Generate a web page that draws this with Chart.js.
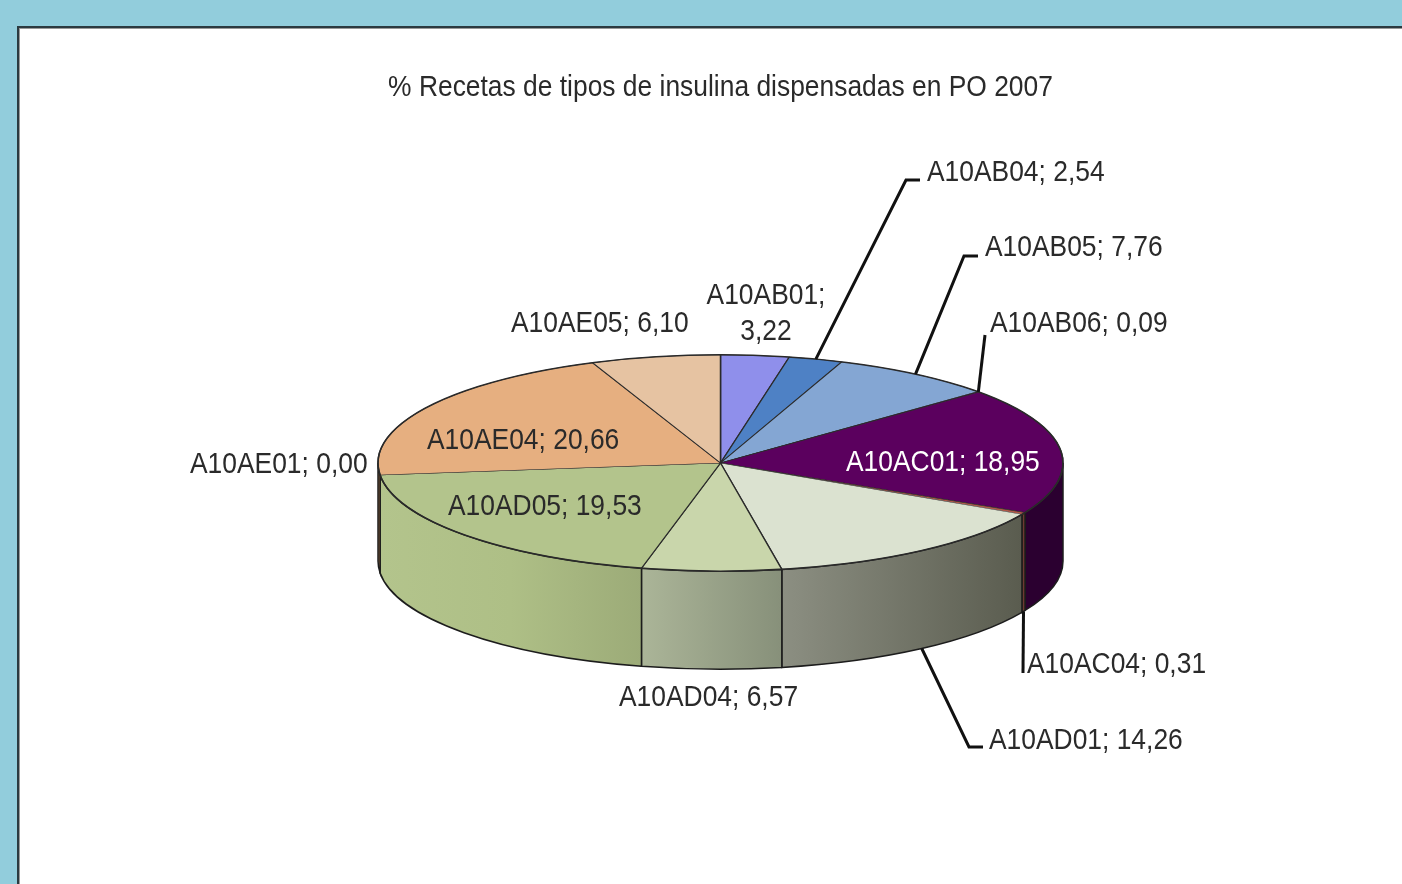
<!DOCTYPE html>
<html><head><meta charset="utf-8">
<style>
html,body{margin:0;padding:0;width:1402px;height:884px;overflow:hidden;background:#92CDDC}
#panel{position:absolute;left:17px;top:26px;right:-5px;bottom:-5px;background:#fff;border:2px solid #2b3a40;box-shadow:inset 1px 1px 0 #999}
canvas{position:absolute;left:0;top:0;filter:blur(0.5px)}
</style>
<script src="https://cdn.jsdelivr.net/npm/chart.js@4"></script>
</head><body><div id="panel"></div><canvas id="c" width="1402" height="884"></canvas>
<script>
const categories = ['A10AB01','A10AB04','A10AB05','A10AB06','A10AC01','A10AC04','A10AD01','A10AD04','A10AD05','A10AE01','A10AE04','A10AE05'];
const values = [3.22,2.54,7.76,0.09,18.95,0.31,14.26,6.57,19.53,0.00,20.66,6.10];
const titleText = '% Recetas de tipos de insulina dispensadas en PO 2007';
const topColors = ['#8F8FEB','#4E81C5','#84A6D3','#7A4A9A','#5B005E','#B05A4A','#DBE2D0','#C9D6AB','#B3C48C','#B3C48C','#E6AF80','#E6C3A2'];
const wallColors = [
  ['#666','#666'],['#666','#666'],['#666','#666'],['#666','#666'],
  ['#2B0030','#2B0030'],['#6E3A32','#6E3A32'],
  ['#8C8F82','#5A5C4F'],['#ABB598','#87907A'],
  ['#B3C48C','#AEBF86','#9CAB78'],['#B3C48C','#B3C48C'],['#96693F','#96693F'],['#666','#666']
];
const SQUASH = 108/342, DEPTH = 98, FONT = 'Liberation Sans, Arial, sans-serif', XS = 0.88;
const labelPlace = {
  A10AB01:{x:766,y:296,center:true,wrap:true},
  A10AB04:{x:927,y:173},
  A10AB05:{x:985,y:248},
  A10AB06:{x:990,y:324},
  A10AC01:{x:846,y:463,color:'#fff'},
  A10AC04:{x:1027,y:665},
  A10AD01:{x:989,y:741},
  A10AD04:{x:619,y:698},
  A10AD05:{x:448,y:507},
  A10AE01:{x:190,y:465},
  A10AE04:{x:427,y:441},
  A10AE05:{x:511,y:324}
};
const leaders = {
  A10AB04:{pts:[[906,180],[920,180]]},
  A10AB05:{pts:[[964,256],[978,256]]},
  A10AB06:{pts:[[985,335]]},
  A10AC04:{pts:[[1023,673]],bottom:true},
  A10AD01:{pts:[[969,747],[983,747]],bottom:true}
};
const fmt = v => v.toFixed(2).replace('.',',');
function text(ctx,s,x,y,center,color){
  ctx.save();
  ctx.translate(x,y);ctx.scale(XS,1);
  ctx.font='30px '+FONT;ctx.fillStyle=color||'#2a2a2a';
  ctx.textBaseline='middle';ctx.textAlign=center?'center':'left';
  ctx.fillText(s,0,0);ctx.restore();
}
const pie3d = {
  id:'pie3d',
  beforeDraw(chart){
    const ctx=chart.ctx,cx=chart.getDatasetMeta(0).data[0]?.x??720;
    ctx.save();ctx.translate(cx,0);ctx.scale(XS,1);ctx.translate(-cx,0);
  },
  beforeDatasetsDraw(chart){
    const ctx=chart.ctx;ctx.restore();
    const arcs=chart.getDatasetMeta(0).data;
    arcs.forEach((a,i)=>{
      const R=a.outerRadius,ry=R*SQUASH;
      const s=Math.max(a.startAngle,0),e=Math.min(a.endAngle,Math.PI);
      if(e<=s)return;
      const x0=a.x+R*Math.cos(e),x1=a.x+R*Math.cos(s);
      const g=ctx.createLinearGradient(x0,0,x1,0);
      const st=wallColors[i];
      st.forEach((c,k)=>g.addColorStop(k/(st.length-1),c));
      ctx.beginPath();
      ctx.ellipse(a.x,a.y,R,ry,0,s,e);
      ctx.ellipse(a.x,a.y+DEPTH,R,ry,0,e,s,true);
      ctx.closePath();
      ctx.fillStyle=g;ctx.fill();
      ctx.lineWidth=1.5;ctx.strokeStyle='#1c1c1c';ctx.stroke();
    });
    const a=arcs[0];
    ctx.save();
    ctx.translate(a.x,a.y);ctx.scale(1,SQUASH);ctx.translate(-a.x,-a.y);
  },
  afterDatasetsDraw(chart){
    const ctx=chart.ctx;ctx.restore();
    const arcs=chart.getDatasetMeta(0).data,a0=arcs[0],R=a0.outerRadius,ry=R*SQUASH;
    ctx.beginPath();ctx.ellipse(a0.x,a0.y,R,ry,0,0,Math.PI*2);
    ctx.lineWidth=1.5;ctx.strokeStyle='#2a2a2a';ctx.stroke();
    categories.forEach((c,i)=>{
      const L=leaders[c];if(!L)return;
      const a=arcs[i],m=(a.startAngle+a.endAngle)/2;
      ctx.beginPath();
      ctx.moveTo(a.x+R*Math.cos(m),a.y+ry*Math.sin(m)+(L.bottom?DEPTH:0));
      L.pts.forEach(p=>ctx.lineTo(p[0],p[1]));
      ctx.lineWidth=3;ctx.strokeStyle='#111';ctx.lineJoin='miter';ctx.stroke();
    });
    categories.forEach((c,i)=>{
      const p=labelPlace[c];
      if(p.wrap){
        text(ctx,c+';',p.x,p.y,true,p.color);
        text(ctx,fmt(values[i]),p.x,p.y+36,true,p.color);
      }else text(ctx,c+'; '+fmt(values[i]),p.x,p.y,!!p.center,p.color);
    });
  }
};
new Chart(document.getElementById('c'),{
  type:'pie',
  data:{labels:categories,datasets:[{data:values,backgroundColor:topColors,borderColor:'#2a2a2a',borderWidth:1.5,radius:342.5}]},
  options:{
    responsive:false,animation:false,
    layout:{padding:{left:100,right:61,top:70,bottom:68}},
    plugins:{
      legend:{display:false},tooltip:{enabled:false},
      title:{display:true,text:titleText,color:'#2a2a2a',font:{family:FONT,size:30,weight:'normal'},padding:{top:0,bottom:4}}
    }
  },
  plugins:[pie3d]
});
</script>
</body></html>
